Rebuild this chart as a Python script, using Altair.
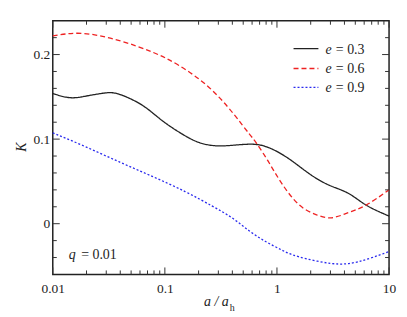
import altair as alt
import pandas as pd

# ---- data ----
x_e03 = [0.01, 0.0142, 0.02, 0.0289, 0.0393, 0.063, 0.0944, 0.1514, 0.2135, 0.3224, 0.56, 0.842, 1.27, 1.9, 2.87, 4.32, 6.24, 10]
k_e03 = [0.154, 0.149, 0.151, 0.1545, 0.153, 0.140, 0.122, 0.104, 0.095, 0.092, 0.094, 0.090, 0.077, 0.060, 0.046, 0.036, 0.022, 0.009]

x_e06 = [0.01, 0.0185, 0.0393, 0.0771, 0.134, 0.263, 0.457, 0.56, 0.658, 0.842, 1.099, 1.555, 2.20, 3.05, 4.32, 6.24, 10]
k_e06 = [0.222, 0.225, 0.2165, 0.203, 0.187, 0.158, 0.122, 0.107, 0.095, 0.073, 0.048, 0.023, 0.011, 0.007, 0.013, 0.022, 0.040]

x_e09 = [0.01, 0.0196, 0.0393, 0.0771, 0.1514, 0.263, 0.396, 0.56, 0.79, 1.099, 1.555, 3.05, 5.3, 10]
k_e09 = [0.1075, 0.091, 0.073, 0.056, 0.038, 0.021, 0.007, -0.008, -0.021, -0.031, -0.039, -0.047, -0.045, -0.033]

series_names = ["e = 0.3", "e = 0.6", "e = 0.9"]
series_colors = ["#222222", "#ee2222", "#2a2aee"]
series_dash = [[1, 0], [5, 3], [2, 2]]
legend_values = ["0.3", "0.6", "0.9"]

x_major = [0.01, 0.1, 1, 10]
x_minor = [m * d for d in [0.01, 0.1, 1] for m in range(2, 10)]
y_major = [0, 0.1, 0.2]
y_minor = [-0.04, -0.02, 0.02, 0.04, 0.06, 0.08, 0.12, 0.14, 0.16, 0.18, 0.22]

W, H = 338, 255
FONT = "Liberation Serif"

rows = []
for name, xs, ks in zip(series_names, [x_e03, x_e06, x_e09], [k_e03, k_e06, k_e09]):
    for xv, kv in zip(xs, ks):
        rows.append({"x": xv, "K": kv, "series": name})
df = pd.DataFrame(rows)

xscale = alt.Scale(type="log", domain=[0.01, 10], nice=False)
yscale = alt.Scale(domain=[-0.06, 0.24], nice=False, zero=False)

xaxis = alt.Axis(values=x_major, format="~g", ticks=False, tickSize=0, domain=False, grid=False,
                 labelFlush=False, labelFont=FONT, labelFontSize=13.5, labelPadding=7,
                 labelColor="#222", title=None)
yaxis = alt.Axis(values=y_major, format="~g", ticks=False, tickSize=0, domain=False, grid=False,
                 labelFlush=False, labelFont=FONT, labelFontSize=13.5, labelPadding=3,
                 labelColor="#222", title=None)

lines = alt.Chart(df).mark_line(interpolate="natural", strokeWidth=1.3).encode(
    x=alt.X("x:Q", scale=xscale, axis=xaxis),
    y=alt.Y("K:Q", scale=yscale, axis=yaxis),
    color=alt.Color("series:N", scale=alt.Scale(domain=series_names, range=series_colors), legend=None),
    strokeDash=alt.StrokeDash("series:N", scale=alt.Scale(domain=series_names, range=series_dash), legend=None),
)

# inward ticks
tick_color = "#333"
xt = pd.DataFrame({"v": x_major + x_minor, "len": [7] * len(x_major) + [4] * len(x_minor)})
yt = pd.DataFrame({"v": y_major + y_minor, "len": [7] * len(y_major) + [4] * len(y_minor)})

def xticks(bottom):
    base = alt.Chart(xt).transform_calculate(
        y1=str(H) if bottom else "0",
        y2=(f"{H} - datum.len" if bottom else "datum.len"))
    return base.mark_rule(color=tick_color, strokeWidth=1).encode(
        x=alt.X("v:Q", scale=xscale),
        y=alt.Y("y1:Q", scale=None),
        y2=alt.Y2("y2:Q"),
    )

def yticks(left):
    base = alt.Chart(yt).transform_calculate(
        x1="0" if left else str(W),
        x2=("datum.len" if left else f"{W} - datum.len"))
    return base.mark_rule(color=tick_color, strokeWidth=1).encode(
        y=alt.Y("v:Q", scale=yscale),
        x=alt.X("x1:Q", scale=None),
        x2=alt.X2("x2:Q"),
    )

# legend
leg = pd.DataFrame({"series": series_names, "val": legend_values,
                    "py": [28, 48, 67], "ty": [29.5, 49, 68]})
leg_lines = alt.Chart(leg).mark_rule(strokeWidth=1.3).encode(
    x=alt.value(242), x2=alt.value(267),
    y=alt.Y("py:Q", scale=None),
    color=alt.Color("series:N", scale=alt.Scale(domain=series_names, range=series_colors), legend=None),
    strokeDash=alt.StrokeDash("series:N", scale=alt.Scale(domain=series_names, range=series_dash), legend=None),
)
leg_e = alt.Chart(leg).mark_text(font=FONT, fontSize=14, fontStyle="italic", align="left",
                                 baseline="middle", color="#222").encode(
    x=alt.value(274), y=alt.Y("ty:Q", scale=None), text=alt.value("e"))
leg_v = alt.Chart(leg).transform_calculate(lab="'= ' + datum.val").mark_text(
    font=FONT, fontSize=14, align="left", baseline="middle", color="#222").encode(
    x=alt.value(284.5), y=alt.Y("ty:Q", scale=None), text="lab:N")

q_i = alt.Chart(pd.DataFrame({"t": ["q"]})).mark_text(font=FONT, fontSize=14, fontStyle="italic",
    align="left", baseline="middle", color="#222").encode(x=alt.value(16), y=alt.value(235), text="t:N")
q_v = alt.Chart(pd.DataFrame({"t": ["= 0.01"]})).mark_text(font=FONT, fontSize=14,
    align="left", baseline="middle", color="#222").encode(x=alt.value(28.5), y=alt.value(235), text="t:N")

# axis titles
xt1 = alt.Chart(pd.DataFrame({"t": ["a / a"]})).mark_text(font=FONT, fontSize=14, fontStyle="italic",
    align="left", baseline="alphabetic", color="#222").encode(x=alt.value(152), y=alt.value(287), text="t:N")
xt2 = alt.Chart(pd.DataFrame({"t": ["h"]})).mark_text(font=FONT, fontSize=10,
    align="left", baseline="alphabetic", color="#222").encode(x=alt.value(178), y=alt.value(292), text="t:N")
yt1 = alt.Chart(pd.DataFrame({"t": ["K"]})).mark_text(font=FONT, fontSize=14, fontStyle="italic",
    align="center", baseline="middle", angle=270, color="#222").encode(x=alt.value(-31), y=alt.value(127), text="t:N")

chart = alt.layer(
    lines, xticks(True), xticks(False), yticks(True), yticks(False),
    leg_lines, leg_e, leg_v, q_i, q_v, xt1, xt2, yt1,
).properties(
    width=W, height=H,
    autosize=alt.AutoSizeParams(type="none"),
    padding={"left": 45, "top": 12, "right": 10, "bottom": 44},
).configure_view(stroke="#222", strokeWidth=1.5)

chart.save("out.html", embed_options={"renderer": "svg", "actions": False})
